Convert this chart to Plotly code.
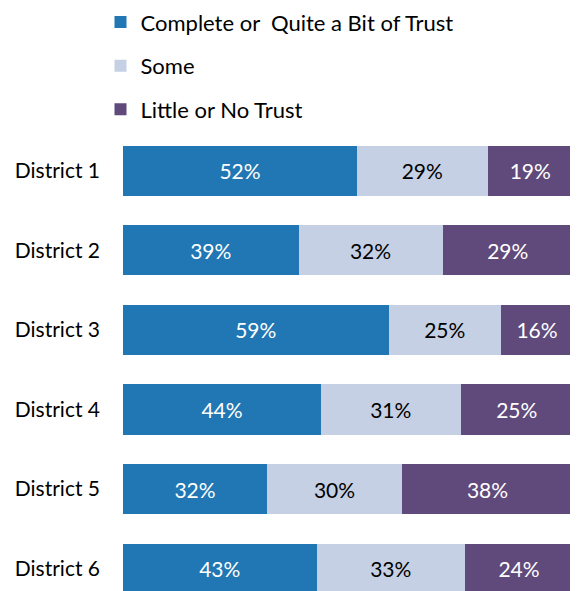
import plotly.graph_objects as go

districts = ["District 1", "District 2", "District 3", "District 4", "District 5", "District 6"]
complete = [52, 39, 59, 44, 32, 43]
some = [29, 32, 25, 31, 30, 33]
little = [19, 29, 16, 25, 38, 24]

series = [
    ("Complete or  Quite a Bit of Trust", complete, "#2077B4", "white"),
    ("Some", some, "#C5D0E4", "black"),
    ("Little or No Trust", little, "#604A7B", "white"),
]

fig = go.Figure()
for i, (name, vals, color, tcolor) in enumerate(series):
    fig.add_trace(go.Bar(
        y=districts, x=vals, name=name, orientation="h",
        marker=dict(color=color, line=dict(width=0)),
        text=[f"{v}%" for v in vals], textposition="inside",
        insidetextanchor="middle",
        textfont=dict(color=tcolor, size=21, family="Lato"),
        width=0.63, legendgroup=f"g{i}",
    ))

# page body has an 8px margin, so the figure is sized to 570x583
fig.update_layout(
    barmode="stack",
    width=570, height=583,
    margin=dict(l=115, r=5, t=123, b=0, autoexpand=False),
    plot_bgcolor="white", paper_bgcolor="white",
    font=dict(family="Lato", size=21, color="black"),
    showlegend=True,
    legend=dict(x=-0.05, y=1.282, xanchor="left", yanchor="top",
                orientation="v", tracegroupgap=12,
                font=dict(size=22), traceorder="grouped"),
    xaxis=dict(range=[0, 100], visible=False),
    yaxis=dict(range=[5.28, -0.5], showgrid=False, ticklabelstandoff=22,
               tickfont=dict(size=21), automargin=False),
)

fig.write_html("out.html")
